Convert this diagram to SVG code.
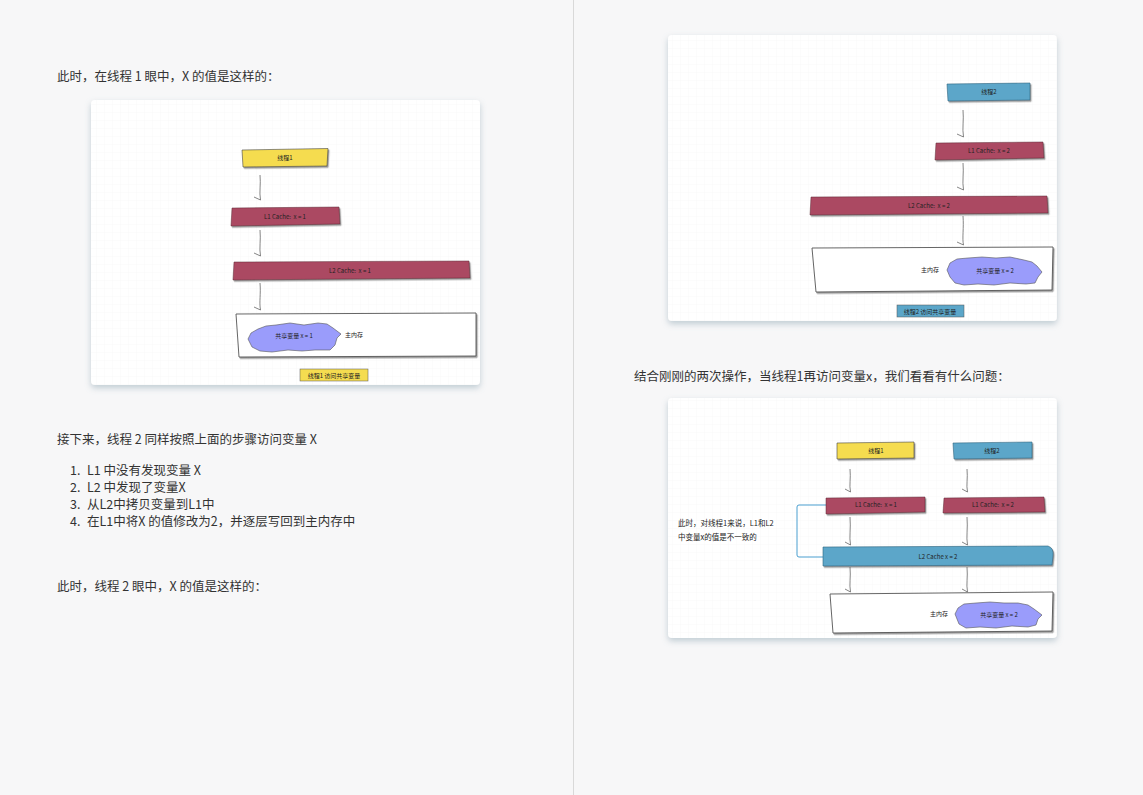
<svg xmlns="http://www.w3.org/2000/svg" width="1143" height="795" viewBox="0 0 1143 795">
<defs>
<pattern id="grid" width="8" height="8" patternUnits="userSpaceOnUse">
<path d="M8 0 L0 0 0 8" fill="none" stroke="#f2f3f4" stroke-width="0.5"/>
</pattern>
<filter id="card" x="-10%" y="-10%" width="120%" height="125%">
<feDropShadow dx="0" dy="3" stdDeviation="3" flood-color="#7f9aa8" flood-opacity="0.45"/>
</filter>
<filter id="sk" x="-5%" y="-20%" width="115%" height="160%">
<feDropShadow dx="1.2" dy="1.5" stdDeviation="0.4" flood-color="#555" flood-opacity="0.6"/>
</filter>
</defs>
<style>
.body{font-family:"Noto Sans CJK SC","Liberation Sans",sans-serif;font-size:12.5px;fill:#333}
.t{font-family:"Noto Sans CJK SC","Liberation Sans",sans-serif;font-size:6px;fill:#222;text-anchor:middle;white-space:pre}
.tl{font-family:"Noto Sans CJK SC","Liberation Sans",sans-serif;font-size:7.5px;fill:#222}
.cardbg{fill:#fff}
.yel{fill:#f5dc50;stroke:#444;stroke-width:0.6}
.red{fill:#ab4862;stroke:#5a2a35;stroke-width:0.5}
.blu{fill:#5ba6c9;stroke:#33657e;stroke-width:0.6}
.mem{fill:#fff;stroke:#555;stroke-width:0.9}
.blob{fill:#9a9cfb;stroke:#555;stroke-width:0.6}
.con{fill:none;stroke:#666;stroke-width:0.8}
.brk{fill:none;stroke:#4a9fd0;stroke-width:1}
</style>
<rect x="0" y="0" width="1143" height="795" fill="#f7f7f8"/>
<line x1="573.5" y1="0" x2="573.5" y2="795" stroke="#d9d9d9" stroke-width="1"/>

<!-- Page texts -->
<g id="text-left">
<text class="body" x="57" y="81">此时，在线程 1 眼中，X 的值是这样的：</text>
<text class="body" x="57" y="444">接下来，线程 2 同样按照上面的步骤访问变量 X</text>
<text class="body" x="70" y="475">1.</text><text class="body" x="87" y="475">L1 中没有发现变量 X</text>
<text class="body" x="70" y="492">2.</text><text class="body" x="87" y="492">L2 中发现了变量X</text>
<text class="body" x="70" y="509">3.</text><text class="body" x="87" y="509">从L2中拷贝变量到L1中</text>
<text class="body" x="70" y="526">4.</text><text class="body" x="87" y="526">在L1中将X 的值修改为2，并逐层写回到主内存中</text>
<text class="body" x="57" y="591">此时，线程 2 眼中，X 的值是这样的：</text>
</g>
<g id="text-right">
<text class="body" x="634" y="381">结合刚刚的两次操作，当线程1再访问变量x，我们看看有什么问题：</text>
</g>

<!-- Card 1 -->
<g id="card1">
<rect x="91" y="100" width="389" height="285" rx="4" class="cardbg" filter="url(#card)"/>
<rect x="91" y="100" width="389" height="285" rx="4" fill="url(#grid)"/>
</g>
<g id="c1-connectors">
<path class="con" d="M260 175 C261 184 259 192 260.5 200 L254 197"/>
<path class="con" d="M260 230 C261 240 259 248 260.5 256 L254 253"/>
<path class="con" d="M260 283 C261 294 259 302 260.5 310 L254 307"/>
</g>
<g id="c1-thread1">
<polygon class="yel" filter="url(#sk)" points="242,150 328,148.5 327,166 243,167"/>
<text class="t" x="285" y="160">线程1</text>
</g>
<g id="c1-l1">
<polygon class="red" filter="url(#sk)" points="232,208 339,207 340,224 231,226"/>
<text class="t" x="285" y="219">L1 Cache:  x = 1</text>
</g>
<g id="c1-l2">
<polygon class="red" filter="url(#sk)" points="234,262 469,261 470,278 233,280"/>
<text class="t" x="350" y="273">L2 Cache:  x = 1</text>
</g>
<g id="c1-mem">
<polygon class="mem" filter="url(#sk)" points="236,314 476,313 476,356 239,357"/>
<path class="blob" d="M248 339 L251 333 L258 329 L266 326 L276 325 L290 323 L304 325 L318 323 L327 324 L333 328 L341 334 L337 338 L335 345 L330 350 L315 350 L302 351 L288 350 L272 352 L260 351 L252 347 Z"/>
<text class="t" x="294" y="338">共享变量 x = 1</text>
<text class="tl" x="345" y="337" style="font-size:6px">主内存</text>
</g>
<g id="c1-caption">
<rect x="300" y="369" width="68" height="12" fill="#f5dc50" stroke="#555" stroke-width="0.5"/>
<text class="t" x="334" y="378">线程1 访问共享变量</text>
</g>

<!-- Card 2 -->
<g id="card2">
<rect x="668" y="35" width="389" height="286" rx="4" class="cardbg" filter="url(#card)"/>
<rect x="668" y="35" width="389" height="286" rx="4" fill="url(#grid)"/>
</g>
<g id="c2-connectors">
<path class="con" d="M963 110 C964 120 962 128 963.5 137 L957 134"/>
<path class="con" d="M963 163 C964 173 962 181 963.5 190 L957 187"/>
<path class="con" d="M963 216 C964 228 962 238 963.5 245 L957 242"/>
</g>
<g id="c2-thread2">
<polygon class="blu" filter="url(#sk)" points="947,84 1030,83 1030,100 948,101"/>
<text class="t" x="989" y="94">线程2</text>
</g>
<g id="c2-l1">
<polygon class="red" filter="url(#sk)" points="936,143 1043,142 1044,158 935,160"/>
<text class="t" x="989" y="153">L1 Cache:  x = 2</text>
</g>
<g id="c2-l2">
<polygon class="red" filter="url(#sk)" points="811,197 1047,196 1048,213 810,215"/>
<text class="t" x="929" y="208">L2 Cache:  x = 2</text>
</g>
<g id="c2-mem">
<polygon class="mem" filter="url(#sk)" points="812,248 1053,247 1052,290 816,292"/>
<path class="blob" d="M947 270 L950 263 L957 259 L968 258 L982 257 L996 258 L1010 257 L1024 260 L1032 262 L1037 266 L1042 272 L1038 277 L1035 283 L1026 284 L1010 283 L994 285 L978 284 L964 285 L955 283 L950 277 Z"/>
<text class="t" x="995" y="273">共享变量 x = 2</text>
<text class="tl" x="921" y="272" style="font-size:6px">主内存</text>
</g>
<g id="c2-caption">
<rect x="897" y="305" width="67" height="12" fill="#5ba6c9" stroke="#555" stroke-width="0.5"/>
<text class="t" x="930" y="314">线程2 访问共享变量</text>
</g>

<!-- Card 3 -->
<g id="card3">
<rect x="668" y="398" width="389" height="240" rx="4" class="cardbg" filter="url(#card)"/>
<rect x="668" y="398" width="389" height="240" rx="4" fill="url(#grid)"/>
</g>
<g id="c3-connectors">
<path class="con" d="M850 469 C851 478 849 485 850.5 492 L845 489"/>
<path class="con" d="M967 469 C968 478 966 485 967.5 492 L962 489"/>
<path class="con" d="M850 517 C851 528 849 537 850.5 545 L845 542"/>
<path class="con" d="M967 517 C968 528 966 537 967.5 545 L962 542"/>
<path class="con" d="M850 567 C851 577 849 584 850.5 592 L845 589"/>
<path class="con" d="M967 567 C968 577 966 584 967.5 592 L962 589"/>
<path class="brk" d="M826 505 L799 505 Q797 505 797 507 L797 555 Q797 557 799 557 L823 557"/>
</g>
<g id="c3-thread1">
<polygon class="yel" filter="url(#sk)" points="837,443 914,442 914,458 837,459"/>
<text class="t" x="876" y="453">线程1</text>
</g>
<g id="c3-thread2">
<polygon class="blu" filter="url(#sk)" points="953,443 1032,442 1032,458 954,459"/>
<text class="t" x="992" y="453">线程2</text>
</g>
<g id="c3-l1a">
<polygon class="red" filter="url(#sk)" points="826,498 925,497 925,512 826,514"/>
<text class="t" x="876" y="507">L1 Cache:  x = 1</text>
</g>
<g id="c3-l1b">
<polygon class="red" filter="url(#sk)" points="944,498 1044,497 1045,512 943,513"/>
<text class="t" x="993" y="507">L1 Cache:  x = 2</text>
</g>
<g id="c3-l2">
<path class="blu" filter="url(#sk)" d="M823 547 L1048 546 Q1054 548 1053 556 L1052 565 L823 566 Z"/>
<text class="t" x="938" y="559">L2 Cache x = 2</text>
</g>
<g id="c3-mem">
<polygon class="mem" filter="url(#sk)" points="830,594 1053,592 1052,631 833,633"/>
<path class="blob" d="M955 614 L958 608 L964 604 L976 603 L990 602 L1004 603 L1018 603 L1028 605 L1034 609 L1042 615 L1038 619 L1036 625 L1028 627 L1012 626 L996 628 L980 627 L966 628 L959 624 Z"/>
<text class="t" x="999" y="617">共享变量 x = 2</text>
<text class="tl" x="930" y="616" style="font-size:6px">主内存</text>
</g>
<g id="c3-note">
<text class="tl" x="678" y="526">此时，对线程1来说，L1和L2</text>
<text class="tl" x="678" y="540">中变量x的值是不一致的</text>
</g>
</svg>
